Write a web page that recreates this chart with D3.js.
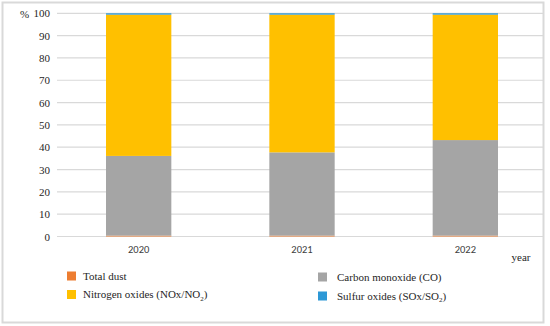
<!DOCTYPE html>
<meta charset="utf-8">
<script src="https://d3js.org/d3.v7.min.js"></script>
<style>
  body { margin: 0; background: #fff; }
</style>
<div id="chart"></div>
<script>

// data (percent shares per year)
var years = ["2020", "2021", "2022"]
var totalDust = [0.4, 0.4, 0.4]
var carbonMonoxide = [35.7, 37.3, 42.8]
var nitrogenOxides = [63.3, 61.7, 56.2]
var sulfurOxides = [0.6, 0.6, 0.6]
var yTicks = [0, 10, 20, 30, 40, 50, 60, 70, 80, 90, 100]

var series = [
  {key: "dust", name: "Total dust", values: totalDust, color: "#ED7D31"},
  {key: "co", name: "Carbon monoxide (CO)", values: carbonMonoxide, color: "#A5A5A5"},
  {key: "nox", name: "Nitrogen oxides (NOx/NO", sub: "2", tail: ")", values: nitrogenOxides, color: "#FFC000"},
  {key: "sox", name: "Sulfur oxides (SOx/SO", sub: "2", tail: ")", values: sulfurOxides, color: "#2C98D6"}
]

var serif = "'Liberation Serif', 'Times New Roman', serif"
var W = 550, H = 326
var svg = d3.select("#chart").append("svg")
  .attr("width", W).attr("height", H)

// outer frame
svg.append("rect")
  .attr("x", 2.5).attr("y", 2.5).attr("width", 541).attr("height", 320)
  .attr("fill", "none").attr("stroke", "#d9d9d9").attr("stroke-width", 2)

var x = d3.scaleBand().domain(years).range([57, 547]).paddingInner(0.6).paddingOuter(0.3)
var y = d3.scaleLinear().domain([0, 100]).range([236.5, 13.3])

// gridlines
svg.append("g").selectAll("line")
  .data(yTicks).enter().append("line")
    .attr("x1", 57).attr("x2", 543)
    .attr("y1", function(d) { return y(d) }).attr("y2", function(d) { return y(d) })
    .attr("stroke", "#d9d9d9").attr("stroke-width", 1.2)

// y axis labels
var yAxis = svg.append("g")
  .attr("transform", "translate(50,0)")
  .call(d3.axisLeft(y).tickValues(yTicks).tickSize(0).tickPadding(0))
yAxis.select(".domain").remove()
yAxis.selectAll("text")
  .style("font-family", serif).style("font-size", "11px").attr("fill", "#262626")

svg.append("text").attr("x", 20).attr("y", 14).attr("dy", "0.35em")
  .style("font-family", serif).style("font-size", "11px").attr("fill", "#262626").text("%")

// stacked bars
var rows = years.map(function(yr, i) {
  var r = {year: yr}
  series.forEach(function(s) { r[s.key] = s.values[i] })
  return r
})
var stack = d3.stack().keys(series.map(function(s) { return s.key }))(rows)

svg.append("g").selectAll("g")
  .data(stack).enter().append("g")
    .attr("fill", function(d, i) { return series[i].color })
  .selectAll("rect")
  .data(function(d) { return d }).enter().append("rect")
    .attr("x", function(d) { return x(d.data.year) })
    .attr("width", x.bandwidth())
    .attr("y", function(d) { return y(d[1]) })
    .attr("height", function(d) { return y(d[0]) - y(d[1]) })

// x axis labels
var xAxis = svg.append("g")
  .attr("transform", "translate(0,246)")
  .call(d3.axisBottom(x).tickSize(0).tickPadding(0))
xAxis.select(".domain").remove()
xAxis.selectAll("text")
  .style("font-family", "Carlito, 'Liberation Sans', sans-serif").style("font-size", "10.5px").attr("fill", "#404040")

svg.append("text").attr("x", 521).attr("y", 257).attr("dy", "0.35em")
  .attr("text-anchor", "middle").style("font-family", serif).style("font-size", "11px")
  .attr("fill", "#262626").text("year")

// legend
var legendPos = [
  {x: 67, y: 276}, // Total dust
  {x: 318, y: 277}, // CO
  {x: 67, y: 294.5}, // NOx
  {x: 318, y: 296}  // SOx
]
var leg = svg.append("g").selectAll("g")
  .data(series).enter().append("g")
    .attr("transform", function(d, i) { return "translate(" + legendPos[i].x + "," + legendPos[i].y + ")" })
leg.append("rect")
  .attr("x", 0).attr("y", -4.5).attr("width", 9).attr("height", 9)
  .attr("fill", function(d) { return d.color })
var lt = leg.append("text")
  .attr("x", function(d, i) { return i % 2 == 0 ? 16 : 19 })
  .attr("dy", "0.35em")
  .attr("fill", "#262626")
  .style("font-family", serif)
  .style("font-size", "11px")
lt.append("tspan").text(function(d) { return d.name })
lt.filter(function(d) { return d.sub }).append("tspan")
  .attr("dy", 2.5).style("font-size", "7px").text(function(d) { return d.sub })
lt.filter(function(d) { return d.tail }).append("tspan")
  .attr("dy", -2.5).text(function(d) { return d.tail })

</script>
